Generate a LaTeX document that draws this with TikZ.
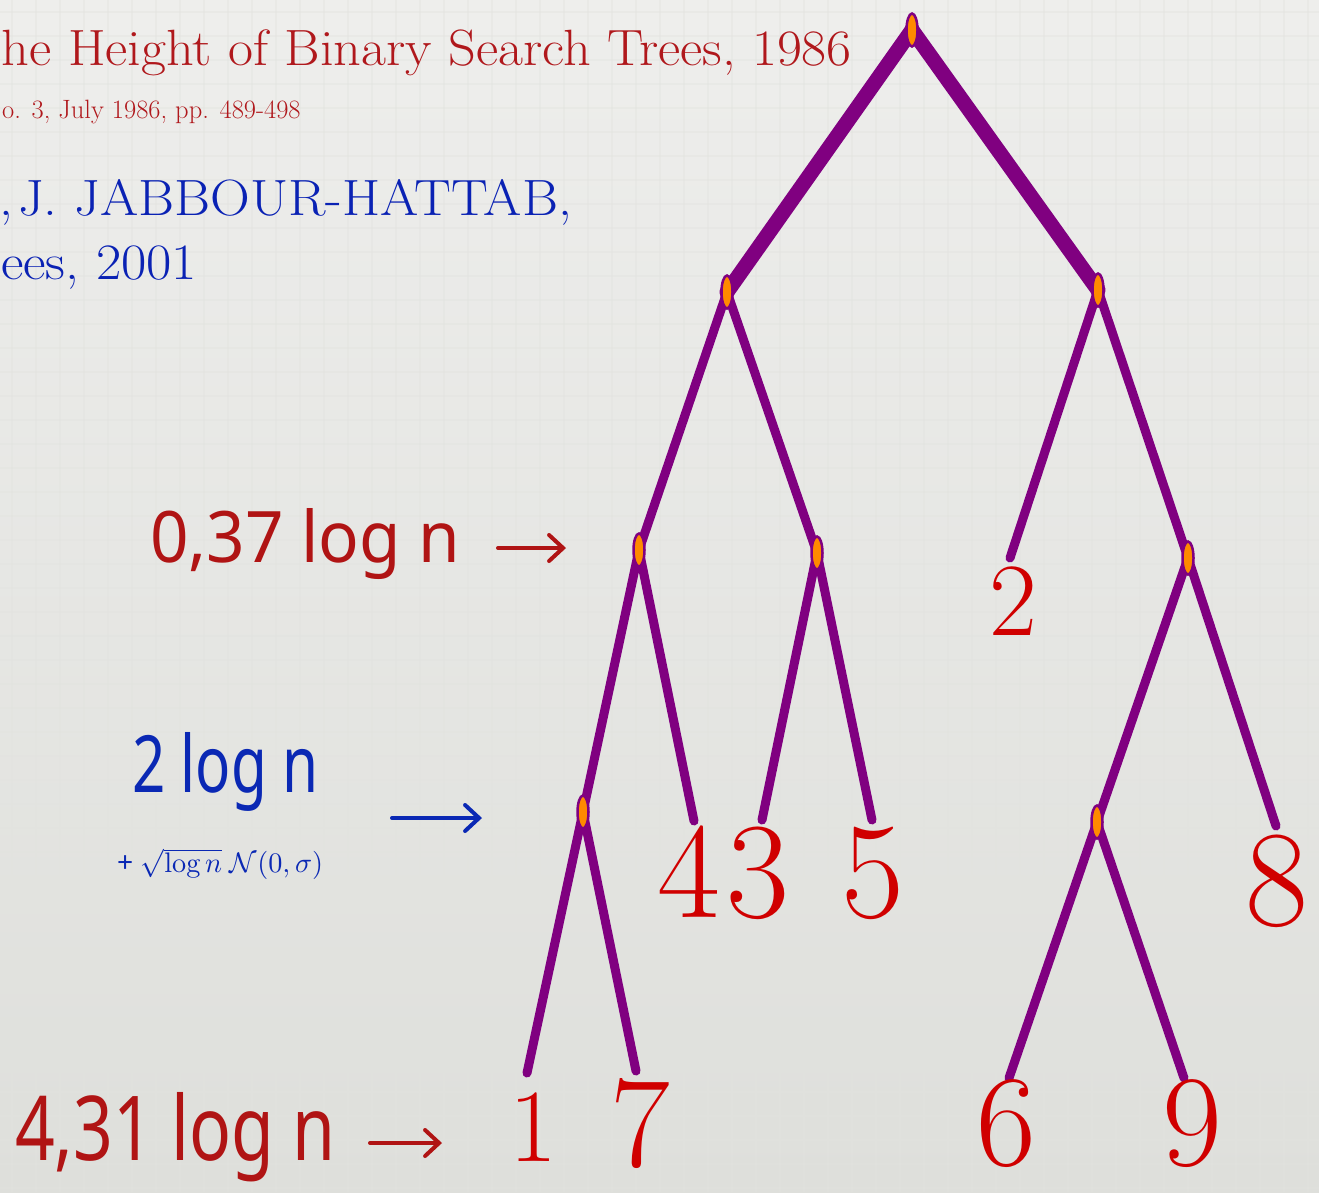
\documentclass[tikz,border=0pt]{standalone}
\usepackage{fontspec}
\usetikzlibrary{shapes.geometric,arrows.meta}
\newfontfamily\hand{Noto Sans}
\definecolor{bgtop}{HTML}{EEEEEC}
\definecolor{bgbot}{HTML}{DEDFDB}
\definecolor{gridc}{HTML}{E2E3DF}
\definecolor{titlered}{HTML}{B0181C}
\definecolor{titleblue}{HTML}{0A22B4}
\definecolor{leafred}{HTML}{D00000}
\definecolor{treepurple}{HTML}{800080}
\definecolor{nodeorange}{HTML}{FF8A00}
\definecolor{handred}{HTML}{B01414}
\definecolor{handblue}{HTML}{0A28B4}
\pgfdeclarelayer{back}
\pgfdeclarelayer{edges}
\pgfsetlayers{back,edges,main}
\begin{document}
\begin{tikzpicture}[x=1pt,y=-1pt,
  inode/.style={ellipse, draw=treepurple, line width=2.5pt, fill=nodeorange,
    minimum width=11pt, minimum height=33pt, inner sep=0pt},
  trunk/.style={draw=treepurple, line width=15pt, line cap=round},
  branch/.style={draw=treepurple, line width=9pt, line cap=round},
  leafbig/.style={text=leafred, inner sep=0pt, font=\fontsize{137}{140}\selectfont},
  leaflow/.style={text=leafred, inner sep=0pt, font=\fontsize{130}{134}\selectfont},
  leafsmall/.style={text=leafred, inner sep=0pt, font=\fontsize{104}{110}\selectfont},
  titlestyle/.style={inner sep=0pt, font=\fontsize{51}{55}\selectfont},
  handarrow/.style={line width=4pt, line cap=round,
    -{Straight Barb[length=14pt,width=26pt,line cap=round]}},
  handlabel/.style={inner sep=0pt, anchor=base west}
]
\useasboundingbox (0,0) rectangle (1319,1192);
\begin{pgfonlayer}{back}
  \shade[top color=bgtop, bottom color=bgbot] (0,0) rectangle (1319,1192);
  \foreach \gx in {12,36,...,1319} \draw[gridc, line width=1.2pt, opacity=0.4] (\gx,0) -- (\gx,1192);
  \foreach \gy in {12,36,...,1192} \draw[gridc, line width=1.2pt, opacity=0.4] (0,\gy) -- (1319,\gy);
\end{pgfonlayer}

% titles
\node[titlestyle, text=titlered, anchor=base east] (t1) at (852,65) {\scalebox{1.065}[1]{he Height of Binary Search Trees, 1986}};
\node[inner sep=0pt, font=\fontsize{26.5}{30}\selectfont, text=titlered, anchor=base west] (t2) at (2,118) {o. 3, July 1986, pp. 489-498};
\node[titlestyle, text=titleblue, anchor=base east] (t3) at (572,215) {\scalebox{1.08}[1]{,\kern4pt J. JABBOUR-HATTAB,}};
\node[titlestyle, text=titleblue, anchor=base west] (t4) at (1,279) {\scalebox{1.08}[1]{ees, 2001}};

% internal nodes
\node[inode] (root) at (912,30) {};
\node[inode] (l) at (727,292) {};
\node[inode] (r) at (1098,290) {};
\node[inode] (ll) at (639,550) {};
\node[inode] (lr) at (817,553) {};
\node[inode] (rr) at (1188,558) {};
\node[inode] (lll) at (583,812) {};
\node[inode] (rrl) at (1097,822) {};

% leaf ends
\coordinate (e2) at (1010,558);
\coordinate (e4) at (694,821);
\coordinate (e3) at (762,820);
\coordinate (e5) at (872,820);
\coordinate (e8) at (1276,826);
\coordinate (e1) at (527,1073);
\coordinate (e7) at (636,1071);
\coordinate (e6) at (1009,1078);
\coordinate (e9) at (1184,1078);

\begin{pgfonlayer}{edges}
  \draw[trunk] (root.center) -- (l.center);
  \draw[trunk] (root.center) -- (r.center);
  \draw[branch] (l.center) -- (ll.center);
  \draw[branch] (l.center) -- (lr.center);
  \draw[branch] (r.center) -- (e2);
  \draw[branch] (r.center) -- (rr.center);
  \draw[branch] (ll.center) -- (lll.center);
  \draw[branch] (ll.center) -- (e4);
  \draw[branch] (lr.center) -- (e3);
  \draw[branch] (lr.center) -- (e5);
  \draw[branch] (rr.center) -- (rrl.center);
  \draw[branch] (rr.center) -- (e8);
  \draw[branch] (lll.center) -- (e1);
  \draw[branch] (lll.center) -- (e7);
  \draw[branch] (rrl.center) -- (e6);
  \draw[branch] (rrl.center) -- (e9);
\end{pgfonlayer}

% leaf labels
\node[leafsmall] (n2) at (1013,601) {2};
\node[leafbig] (n4) at (689,872) {4};
\node[leafbig] (n3) at (758,873) {3};
\node[leafbig] (n5) at (873,873) {5};
\node[leafbig] (n8) at (1277,881) {8};
\node[leafsmall] (n1) at (533,1127) {1};
\node[leaflow] (n7) at (640,1124) {7};
\node[leaflow] (n6) at (1006,1124) {6};
\node[leaflow] (n9) at (1192,1124) {9};

% handwritten labels
\node[handlabel, text=handred] (h1) at (150,562) {\resizebox{310pt}{54pt}{\hand 0,37 log n}};
\coordinate (a1s) at (498,548);
\coordinate (a1e) at (566,548);
\draw[handarrow, handred] (a1s) -- (a1e);

\node[handlabel, text=handblue] (h2) at (132,792) {\resizebox{186pt}{60pt}{\hand 2 log n}};
\node[handlabel, text=handblue] (h2b) at (117,872) {\resizebox{206pt}{!}{\hand + $\sqrt{\log n}\;\mathcal{N}(0,\sigma)$}};
\coordinate (a2s) at (392,818);
\coordinate (a2e) at (482,818);
\draw[handarrow, handblue] (a2s) -- (a2e);

\node[handlabel, text=handred] (h3) at (15,1160) {\resizebox{320pt}{68pt}{\hand 4,31 log n}};
\coordinate (a3s) at (370,1143);
\coordinate (a3e) at (442,1143);
\draw[handarrow, handred] (a3s) -- (a3e);
\end{tikzpicture}
\end{document}
